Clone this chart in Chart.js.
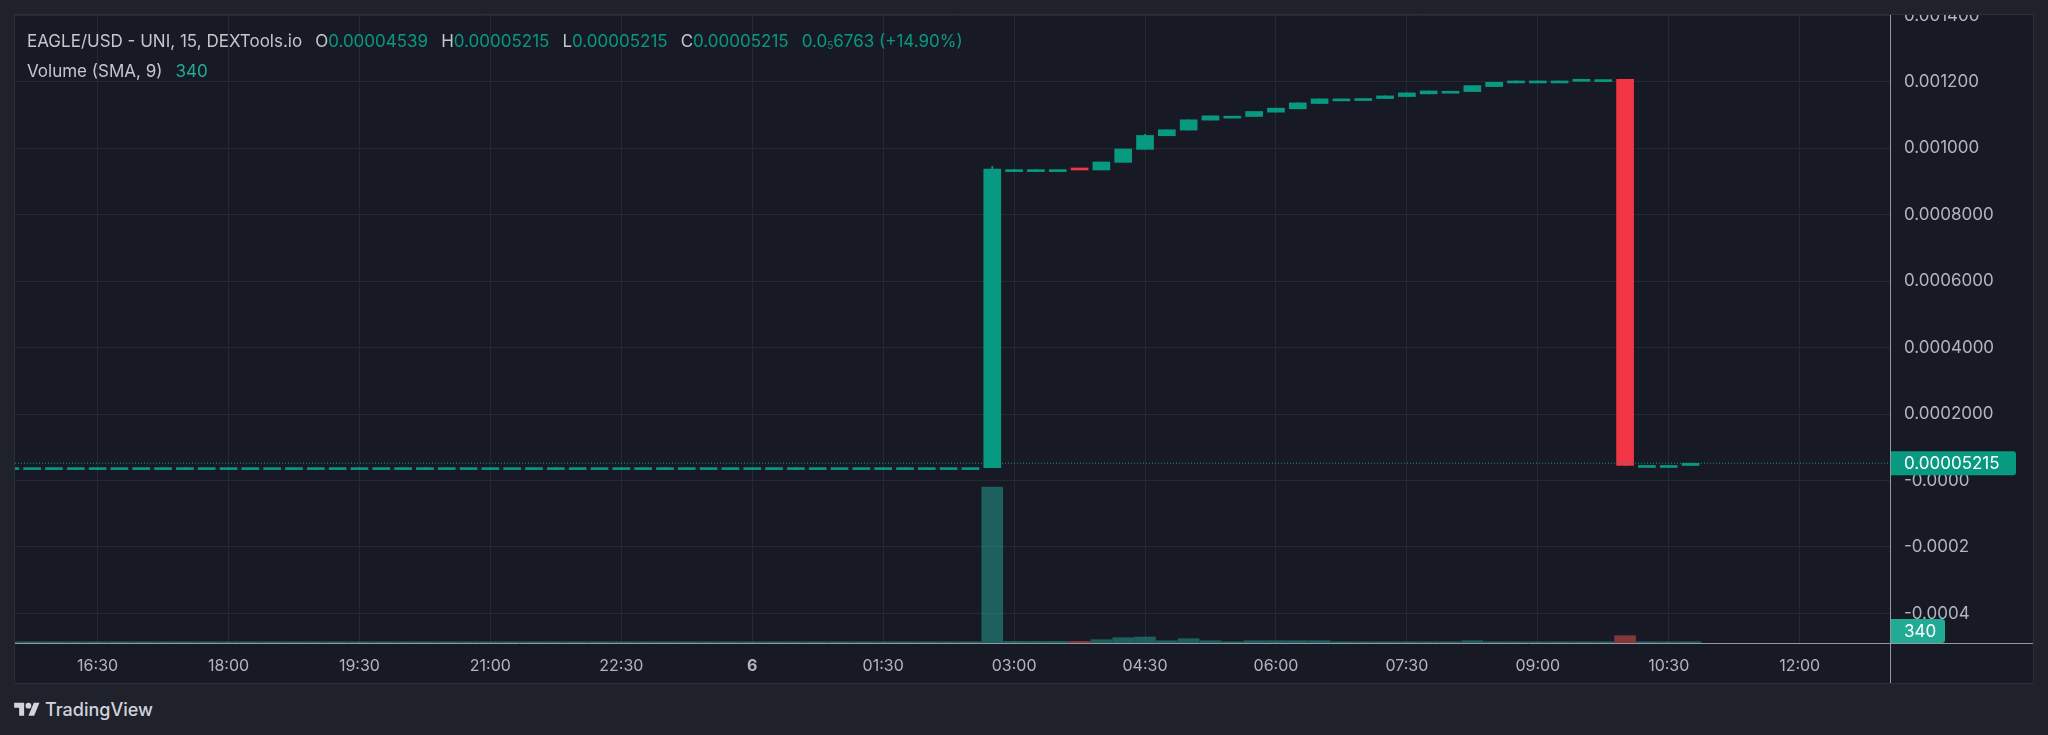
<!DOCTYPE html>
<html>
<head>
<meta charset="utf-8">
<title>EAGLE/USD</title>
<script src="https://cdn.jsdelivr.net/npm/chart.js@4.4.1/dist/chart.umd.min.js"></script>
<style>
  html, body { margin: 0; padding: 0; }
  body { width: 2048px; height: 735px; background: #1f222b; position: relative; overflow: hidden;
         font-family: Inter, 'Noto Sans', sans-serif; }
  #panel { position: absolute; left: 14px; top: 14px; width: 2020px; height: 670px; box-sizing: border-box;
           border: 1px solid #2b2f3a; background: #171a25; }
  #chart { position: absolute; left: 0; top: 0; }
  #legend { position: absolute; left: 12px; top: 13px; font-size: 17px; color: #c4c6cc; line-height: 26px; }
  #legend .v { color: #089981; }
  #legend .k { margin-left: 13px; }
  #legend sub { font-size: 10px; vertical-align: -2px; }
  #brand { position: absolute; left: 14px; top: 699px; display: flex; align-items: center;
           color: #d1d4dc; font-size: 18px; font-weight: 500; }
  #brand svg { width: 26px; height: 20px; margin-right: 5px; }
</style>
</head>
<body>
<div id="panel">
  <canvas id="chart" width="2018" height="668"></canvas>
  <div id="legend">
    <div>EAGLE/USD - UNI, 15, DEXTools.io<span class="k">O</span><span class="v">0.00004539</span><span class="k">H</span><span class="v">0.00005215</span><span class="k">L</span><span class="v">0.00005215</span><span class="k">C</span><span class="v">0.00005215</span><span class="k v">0.0<sub>5</sub>6763 (+14.90%)</span></div>
    <div>Volume (SMA, 9)<span class="k v" style="color:#22ab94">340</span></div>
  </div>
</div>
<div id="brand">
  <svg viewBox="0 0 36 28"><path fill="#d1d4dc" d="M14 22H7V11H0V4h14v18zM28 22h-8l7.5-18h8L28 22z"/><circle fill="#d1d4dc" cx="20" cy="8" r="4"/></svg>
  TradingView
</div>
<script>
// 15 minute candles, 15:30 .. 10:45 (x = bars after 16:30)
var firstBar = -4;

var opens = [
    0.000039, 0.000039, 0.000039, 0.000039, 0.000039, 0.000039, 0.000039, 0.000039, 0.000039, 0.000039,
    0.000039, 0.000039, 0.000039, 0.000039, 0.000039, 0.000039, 0.000039, 0.000039, 0.000039, 0.000039,
    0.000039, 0.000039, 0.000039, 0.000039, 0.000039, 0.000039, 0.000039, 0.000039, 0.000039, 0.000039,
    0.000039, 0.000039, 0.000039, 0.000039, 0.000039, 0.000039, 0.000039, 0.000039, 0.000039, 0.000039,
    0.000039, 0.000039, 0.000039, 0.000039, 0.000039,
    0.000039, 0.000936, 0.000936, 0.000936, 0.000936, 0.000935, 0.000958, 0.000997, 0.001038, 0.001055,
    0.001085, 0.001097, 0.001096, 0.001109, 0.001119, 0.001135, 0.001149, 0.001150, 0.001150, 0.001156,
    0.001164, 0.001172, 0.001171, 0.001186, 0.001197, 0.001203, 0.001203, 0.001202, 0.001207, 0.001208,
    0.0000454, 0.0000454, 0.00004539
];
var closes = [
    0.000039, 0.000039, 0.000039, 0.000039, 0.000039, 0.000039, 0.000039, 0.000039, 0.000039, 0.000039,
    0.000039, 0.000039, 0.000039, 0.000039, 0.000039, 0.000039, 0.000039, 0.000039, 0.000039, 0.000039,
    0.000039, 0.000039, 0.000039, 0.000039, 0.000039, 0.000039, 0.000039, 0.000039, 0.000039, 0.000039,
    0.000039, 0.000039, 0.000039, 0.000039, 0.000039, 0.000039, 0.000039, 0.000039, 0.000039, 0.000039,
    0.000039, 0.000039, 0.000039, 0.000039, 0.000039,
    0.000938, 0.000936, 0.000936, 0.000936, 0.000935, 0.000959, 0.000998, 0.001039, 0.001056, 0.001086,
    0.001098, 0.001097, 0.001111, 0.001121, 0.001137, 0.001149, 0.001149, 0.001150, 0.001158, 0.001167,
    0.001173, 0.001172, 0.001189, 0.001199, 0.001203, 0.001203, 0.001203, 0.001208, 0.001207, 0.0000454,
    0.0000454, 0.0000454, 0.00005215
];
var highs = [
    0.000039, 0.000039, 0.000039, 0.000039, 0.000039, 0.000039, 0.000039, 0.000039, 0.000039, 0.000039,
    0.000039, 0.000039, 0.000039, 0.000039, 0.000039, 0.000039, 0.000039, 0.000039, 0.000039, 0.000039,
    0.000039, 0.000039, 0.000039, 0.000039, 0.000039, 0.000039, 0.000039, 0.000039, 0.000039, 0.000039,
    0.000039, 0.000039, 0.000039, 0.000039, 0.000039, 0.000039, 0.000039, 0.000039, 0.000039, 0.000039,
    0.000039, 0.000039, 0.000039, 0.000039, 0.000039,
    0.000946, 0.000936, 0.000936, 0.000936, 0.000936, 0.000959, 0.000998, 0.001042, 0.001056, 0.001086,
    0.001098, 0.001097, 0.001111, 0.001121, 0.001137, 0.001149, 0.001149, 0.001150, 0.001158, 0.001167,
    0.001173, 0.001172, 0.001189, 0.001199, 0.001203, 0.001203, 0.001203, 0.001208, 0.001207, 0.001208,
    0.0000454, 0.0000454, 0.00005215
];
var lows = [
    0.000039, 0.000039, 0.000039, 0.000039, 0.000039, 0.000039, 0.000039, 0.000039, 0.000039, 0.000039,
    0.000039, 0.000039, 0.000039, 0.000039, 0.000039, 0.000039, 0.000039, 0.000039, 0.000039, 0.000039,
    0.000039, 0.000039, 0.000039, 0.000039, 0.000039, 0.000039, 0.000039, 0.000039, 0.000039, 0.000039,
    0.000039, 0.000039, 0.000039, 0.000039, 0.000039, 0.000039, 0.000039, 0.000039, 0.000039, 0.000039,
    0.000039, 0.000039, 0.000039, 0.000039, 0.000039,
    0.000039, 0.000936, 0.000936, 0.000936, 0.000935, 0.000935, 0.000958, 0.000997, 0.001038, 0.001055,
    0.001085, 0.001097, 0.001096, 0.001109, 0.001119, 0.001135, 0.001149, 0.001150, 0.001150, 0.001156,
    0.001164, 0.001172, 0.001171, 0.001186, 0.001197, 0.001203, 0.001203, 0.001202, 0.001207, 0.0000454,
    0.0000454, 0.0000454, 0.00004539
];
var volumes = [
    340, 340, 340, 340, 340, 340, 340, 340, 340, 340,
    340, 340, 340, 340, 340, 340, 340, 340, 340, 340,
    340, 340, 340, 340, 340, 340, 340, 340, 340, 340,
    340, 340, 340, 340, 340, 340, 340, 340, 340, 340,
    340, 340, 340, 340, 340,
    40600, 440, 440, 440, 440, 860, 1380, 1560, 600, 1120,
    600, 340, 600, 600, 600, 600, 340, 340, 340, 340,
    340, 340, 600, 340, 340, 340, 340, 340, 340, 1900,
    340, 340, 340
];

var xTickValues = [0, 6, 12, 18, 24, 30, 36, 42, 48, 54, 60, 66, 72, 78];
var xTickLabels = ['16:30', '18:00', '19:30', '21:00', '22:30', '6', '01:30', '03:00', '04:30', '06:00', '07:30', '09:00', '10:30', '12:00'];
var priceTicks = [-0.0004, -0.0002, 0, 0.0002, 0.0004, 0.0006, 0.0008, 0.001, 0.0012, 0.0014];
var priceTickLabels = ['-0.0004', '-0.0002', '-0.0000', '0.0002000', '0.0004000', '0.0006000', '0.0008000', '0.001000', '0.001200', '0.001400'];
var lastPriceLabel = '0.00005215';
var lastVolumeLabel = '340';

var colors = {
    up: '#089981',
    down: '#f23645',
    up_vol: 'rgba(38,166,154,0.5)',
    down_vol: 'rgba(239,83,80,0.5)',
    text: '#b2b5be',
    grid: '#252934',
    axis: '#9598a1',
    vol_tag: '#22ab94'
};

var xMin = -3.785, xMax = 82.14;

function isUp(i) { return closes[i] >= opens[i]; }

var bodies = [], wicks = [], vols = [], bodyColors = [], volColors = [];
for (var i = 0; i < opens.length; i++) {
    var x = firstBar + i;
    bodies.push({ x: x, y: [opens[i], closes[i]] });
    wicks.push({ x: x, y: [lows[i], highs[i]] });
    vols.push({ x: x, y: volumes[i] });
    bodyColors.push(isUp(i) ? colors.up : colors.down);
    volColors.push(isUp(i) ? colors.up_vol : colors.down_vol);
}
var lastClose = closes[closes.length - 1];

var tags = {
    id: 'tags',
    afterDraw: function (chart) {
        var ctx = chart.ctx, a = chart.chartArea;
        ctx.save();
        ctx.strokeStyle = colors.axis;
        ctx.lineWidth = 1;
        ctx.beginPath();
        ctx.moveTo(0, Math.round(a.bottom) + 0.5);
        ctx.lineTo(chart.width, Math.round(a.bottom) + 0.5);
        ctx.moveTo(Math.round(a.right) + 0.5, 0);
        ctx.lineTo(Math.round(a.right) + 0.5, chart.height);
        ctx.stroke();

        ctx.font = '17px Inter, "Noto Sans", sans-serif';
        ctx.textBaseline = 'middle';
        // last price
        var y = chart.scales.y.getPixelForValue(lastClose);
        ctx.fillStyle = colors.up;
        ctx.beginPath();
        ctx.roundRect(a.right + 1, y - 12, 125, 24, [0, 3, 3, 0]);
        ctx.fill();
        ctx.fillStyle = '#ffffff';
        ctx.fillText(lastPriceLabel, a.right + 14, y + 1);
        // last volume
        ctx.fillStyle = colors.vol_tag;
        ctx.beginPath();
        ctx.roundRect(a.right + 1, a.bottom - 24, 54, 24, [0, 3, 3, 0]);
        ctx.fill();
        ctx.fillStyle = '#ffffff';
        ctx.fillText(lastVolumeLabel, a.right + 14, a.bottom - 11);
        ctx.restore();
    }
};

Chart.defaults.font.family = "Inter, 'Noto Sans', sans-serif";

var chart = new Chart(document.getElementById('chart'), {
    data: {
        datasets: [{
            type: 'line',
            data: [{ x: xMin, y: lastClose }, { x: xMax, y: lastClose }],
            borderColor: colors.up,
            borderWidth: 1,
            borderDash: [1, 2],
            pointRadius: 0,
            yAxisID: 'y',
            order: 0
        }, {
            type: 'bar',
            data: bodies,
            backgroundColor: bodyColors,
            barThickness: 17,
            minBarLength: 2,
            grouped: false,
            yAxisID: 'y',
            order: 1
        }, {
            type: 'bar',
            data: wicks,
            backgroundColor: bodyColors,
            barThickness: 1,
            grouped: false,
            yAxisID: 'y',
            order: 2
        }, {
            type: 'bar',
            data: vols,
            backgroundColor: volColors,
            barThickness: 21,
            grouped: false,
            yAxisID: 'yVol',
            order: 3
        }]
    },
    options: {
        responsive: false,
        animation: false,
        layout: { padding: 0 },
        plugins: { legend: { display: false }, tooltip: { enabled: false } },
        scales: {
            x: {
                type: 'linear',
                min: xMin,
                max: xMax,
                offset: false,
                grid: { color: colors.grid, drawTicks: false, offset: false },
                border: { display: false },
                afterBuildTicks: function (scale) {
                    scale.ticks = xTickValues.map(function (v) { return { value: v }; });
                },
                afterFit: function (scale) {
                    scale.height = 40;
                    scale.paddingLeft = 0;
                    scale.paddingRight = 0;
                },
                ticks: {
                    autoSkip: false,
                    maxRotation: 0,
                    padding: 14,
                    color: colors.text,
                    font: function (c) {
                        return { size: 16, weight: c.tick && c.tick.value === 30 ? 'bold' : 'normal' };
                    },
                    callback: function (v) { return xTickLabels[xTickValues.indexOf(v)]; }
                }
            },
            y: {
                position: 'right',
                min: -0.000489,
                max: 0.0014015,
                grid: { color: colors.grid, drawTicks: false },
                border: { display: false },
                afterBuildTicks: function (scale) {
                    scale.ticks = priceTicks.map(function (v) { return { value: v }; });
                },
                afterFit: function (scale) {
                    scale.width = 143;
                    scale.paddingTop = 0;
                    scale.paddingBottom = 0;
                },
                ticks: {
                    padding: 14,
                    color: colors.text,
                    font: { size: 17 },
                    callback: function (v) { return priceTickLabels[priceTicks.indexOf(v)]; }
                }
            },
            yVol: {
                display: false,
                min: 0,
                max: 163500
            }
        }
    },
    plugins: [tags]
});
</script>
</body>
</html>
